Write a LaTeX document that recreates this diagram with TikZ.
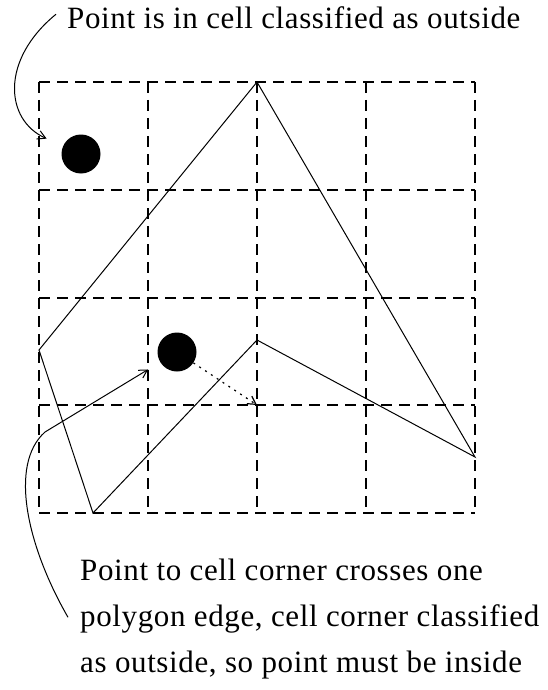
\documentclass[tikz,border=0pt]{standalone}
\usepackage{fontspec}
\setmainfont{Liberation Serif}[LetterSpace=2.0]
\usetikzlibrary{arrows.meta}

\begin{document}
\begin{tikzpicture}[x=1pt,y=-1pt,
  cellgrid/.style={line width=1.2pt,dash pattern=on 11pt off 7pt},
  edge/.style={line width=1pt},
  dot/.style={circle,fill=black,inner sep=0pt,minimum size=39pt},
  note/.style={font=\fontsize{31}{46}\selectfont,align=left,inner sep=0pt},
  pointer/.style={-{Straight Barb[length=8pt,width=9pt]},line width=1pt},
  probe/.style={-{Straight Barb[length=8pt,width=9pt]},line width=1.2pt,dash pattern=on 2pt off 5pt}]
\useasboundingbox (0,0) rectangle (547,690);

% cell grid
\foreach \gx in {39,148,257,366,475} \draw[cellgrid] (\gx,82) -- (\gx,513);
\foreach \gy in {82,190,298,405,513} \draw[cellgrid] (39,\gy) -- (475,\gy);
% polygon
\draw[edge] (257,82) -- (475,457) -- (257,340) -- (93,513) -- (39,350) -- cycle;
% points and cell corner
\node[dot] (outdot) at (81,154) {};
\node[dot] (indot) at (177,352) {};
\coordinate (corner) at (257,405);
% notes
\node[note,anchor=base west] (outnote) at (67,29) {Point is in cell classified as outside};
\node[note,anchor=north west] (innote) at (80,559) {Point to cell corner crosses one\\polygon edge, cell corner classified\\as outside, so point must be inside};

\draw[pointer,shorten >=18pt] ([xshift=-11pt,yshift=4pt]outnote.west) .. controls (0,60) and (5,120) .. (outdot);
\draw[pointer,shorten >=14pt] ([xshift=-12pt,yshift=2pt]innote.west) .. controls (28,548) and (8,465) .. (45,432) -- (indot);
\draw[probe] (indot) -- (corner);
\end{tikzpicture}
\end{document}
